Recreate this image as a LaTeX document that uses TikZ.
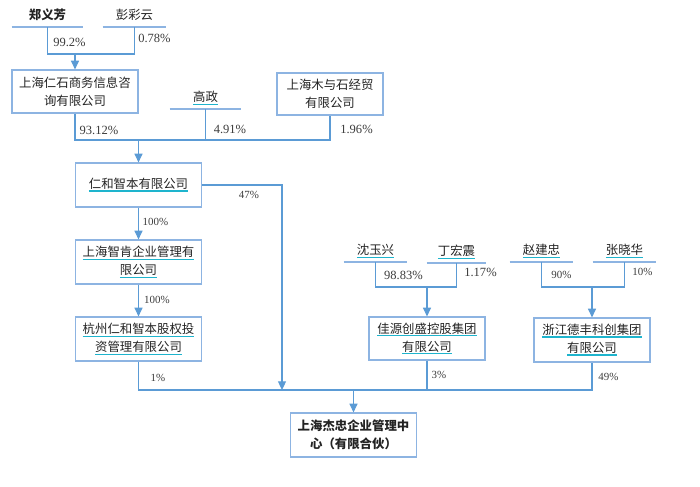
\documentclass[tikz,border=0pt]{standalone}
\usepackage{fontspec}
\setmainfont{Liberation Serif}
\newfontfamily\cjk{Noto Sans CJK SC}
\usetikzlibrary{arrows.meta}
\definecolor{linkblue}{RGB}{91,155,213}
\definecolor{boxblue}{RGB}{141,180,226}
\definecolor{squigcyan}{RGB}{30,180,205}
\definecolor{ink}{RGB}{35,35,35}
\definecolor{pctgray}{RGB}{60,60,60}
\newcommand\squig[1]{\setbox0\hbox{#1}\rlap{\textcolor{squigcyan}{\rule[-2.4pt]{\wd0}{1pt}}}\box0}

\begin{document}
\begin{tikzpicture}[x=0.75pt, y=-0.75pt,
	box/.style={draw=boxblue, line width=0.9pt, minimum width=95pt, minimum height=33pt, inner sep=0pt, align=center, text=ink, font=\cjk\fontsize{9.3}{13.5}\selectfont},
	holder/.style={anchor=south, inner xsep=0pt, inner ysep=4pt, text height=7.3pt, text depth=1.2pt, text=ink, font=\cjk\fontsize{9.3}{11}\selectfont},
	hline/.style={draw=boxblue, line width=0.9pt},
	link/.style={draw=linkblue, line width=0.8pt},
	arr/.style={link, -{Triangle[width=6pt,length=6.5pt]}},
	pct/.style={text=pctgray, inner sep=0pt, font=\fontsize{9.4}{11}\selectfont},
	pcts/.style={text=pctgray, inner sep=0pt, font=\fontsize{8.2}{10}\selectfont}]
			%%%%% START %%%%%
			\useasboundingbox (0, 0) rectangle (700, 486);
			
			% top holders
			\node[holder, minimum width=53.25pt, font=\cjk\bfseries\fontsize{9.3}{11}\selectfont] (zyf) at (47.5, 27) {郑义芳};
			\node[holder, minimum width=47.25pt] (pcy) at (134.5, 27) {彭彩云};
			\draw[hline] (zyf.south west) -- (zyf.south east);
			\draw[hline] (pcy.south west) -- (pcy.south east);
			
			\node[box, minimum width=94.5pt, minimum height=32.25pt] (rs) at (75, 91.5) {上海仁石商务信息咨\\询有限公司};
			\coordinate (j1) at (75, 54);
			\draw[link] (zyf.south) |- (j1) -| (pcy.south);
			\draw[arr] (j1) -- (rs.north);
			\node[pct] (p1) at (69.5, 42) {99.2\%};
			\node[pct] (p2) at (154.5, 38) {0.78\%};
			
			% second row
			\node[holder, minimum width=53.25pt] (gz) at (205.5, 109) {\squig{高政}};
			\draw[hline] (gz.south west) -- (gz.south east);
			\node[box, minimum width=79.5pt, minimum height=31.5pt] (mys) at (330, 94) {上海木与石经贸\\有限公司};
			
			\node[box] (rhzb) at (138.5, 185) {\squig{仁和智本有限公司}};
			\coordinate (j2) at (138.5, 140);
			\draw[link] (rs.south) |- (j2) -| (mys.south);
			\draw[link] (gz.south) -- (gz.south |- j2);
			\draw[arr] (j2) -- (rhzb.north);
			\node[pct] (p3) at (99, 130) {93.12\%};
			\node[pct] (p4) at (230, 129) {4.91\%};
			\node[pct] (p5) at (356.5, 129) {1.96\%};
			
			% left chain
			\node[box] (zk) at (138.5, 262) {\squig{上海智肯企业管理有}\\\squig{限公司}};
			\node[box] (hz) at (138.5, 339) {\squig{杭州仁和智本股权投}\\\squig{资管理有限公司}};
			\draw[arr] (rhzb) -- (zk);
			\draw[arr] (zk) -- (hz);
			\node[pcts] (p6) at (155.5, 222) {100\%};
			\node[pcts] (p7) at (157, 300) {100\%};
			
			% right holders
			\node[holder, minimum width=47.25pt] (syx) at (375.5, 262) {\squig{沈玉兴}};
			\node[holder, minimum width=44.25pt] (dhz) at (456.5, 263) {\squig{丁宏震}};
			\node[holder, minimum width=47.25pt] (zjz) at (541.5, 262) {\squig{赵建忠}};
			\node[holder, minimum width=47.25pt] (zxh) at (624.5, 262) {\squig{张晓华}};
			\draw[hline] (syx.south west) -- (syx.south east);
			\draw[hline] (dhz.south west) -- (dhz.south east);
			\draw[hline] (zjz.south west) -- (zjz.south east);
			\draw[hline] (zxh.south west) -- (zxh.south east);
			
			\node[box, minimum width=87pt, minimum height=32.25pt] (jy) at (427, 338.5) {\squig{佳源创盛控股集团}\\\squig{有限公司}};
			\node[box, minimum width=87pt] (zj) at (592, 340) {\squig{浙江德丰科创集团}\\\squig{有限公司}};
			\coordinate (j3) at (427, 287);
			\coordinate (j4) at (592, 287);
			\draw[link] (syx.south) |- (j3) -| (dhz.south);
			\draw[arr] (j3) -- (jy.north);
			\draw[link] (zjz.south) |- (j4) -| (zxh.south);
			\draw[arr] (j4) -- (zj.north);
			\node[pct] (p8) at (403.5, 275) {98.83\%};
			\node[pct] (p9) at (480.5, 272) {1.17\%};
			\node[pcts] (p10) at (561.5, 275) {90\%};
			\node[pcts] (p11) at (642.5, 272) {10\%};
			
			% bottom
			\node[box, font=\cjk\bfseries\fontsize{9.3}{13.5}\selectfont] (sjz) at (353.5, 435) {上海杰忠企业管理中\\心（有限合伙）};
			\coordinate (bus) at (353.5, 390);
			\coordinate (j5) at (282, 390);
			\draw[link] (hz.south) |- (bus) -| (zj.south);
			\draw[link] (jy.south) -- (jy.south |- bus);
			\draw[arr] (rhzb.east) -| (j5);
			\draw[arr] (bus) -- (sjz.north);
			\node[pcts] (p12) at (249, 195) {47\%};
			\node[pcts] (p13) at (158, 378) {1\%};
			\node[pcts] (p14) at (439, 375) {3\%};
			\node[pcts] (p15) at (608.5, 377) {49\%};
			
			%%%%% END %%%%%
\end{tikzpicture}
\end{document}
